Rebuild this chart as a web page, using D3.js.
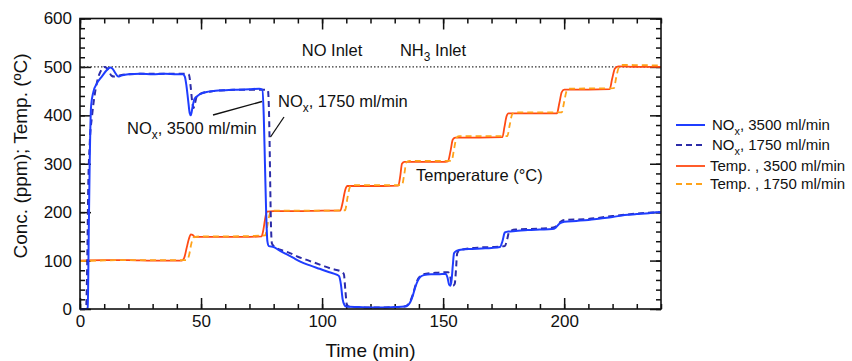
<!DOCTYPE html>
<html><head><meta charset="utf-8">
<script src="https://cdn.jsdelivr.net/npm/d3@7"></script>
<style>
body{margin:0;background:#fff}
svg{display:block}
text{font-family:"Liberation Sans",Arial,Helvetica,sans-serif;fill:#111}
</style>
</head><body>
<svg id="chart" width="852" height="361"></svg>
<script>
// Tick values
const timeTicks = [0, 50, 100, 150, 200];
const concTicks = [0, 100, 200, 300, 400, 500, 600];
const inletLevel = 500;

// NOx outlet concentration (ppm) vs time (min), 3500 ml/min
const nox3500 = [[0,0],[2.5,0],[3.2,2],[3.6,150],[4,300],[4.6,420],[5.5,448],[7,466],[9,480],[11,493],[12.5,499],[13.5,496],[14.5,488],[15.8,480],[17,482],[20,485],[25,486],[30,485],[35,486],[40,485],[42.5,485],[43.3,480],[44,460],[44.7,430],[45.3,405],[45.8,400],[46.5,418],[47.3,434],[48.5,440],[50,445],[53,449],[56,451],[60,452],[65,453],[70,454],[74,455],[75.3,453],[75.9,400],[76.4,300],[76.9,200],[77.4,140],[78,130],[80,128],[82,122],[85,114],[88,106],[91,98],[95,90],[99,83],[103,76],[106,71],[107,68],[107.8,50],[108.5,20],[109.3,8],[110,5],[115,4],[120,3],[125,3],[130,4],[134,5],[135.5,8],[136.5,15],[137.5,28],[138.5,45],[139.5,58],[140.5,66],[142,70],[145,72],[148,72],[151,73],[151.8,65],[152.5,50],[153,48],[153.5,60],[154,90],[154.5,115],[155.5,120],[158,123],[162,124],[166,125],[170,126],[173.5,128],[174.5,140],[175.5,158],[177,160],[180,161],[185,163],[190,164],[195,165],[196.5,168],[198,176],[200,180],[205,182],[210,184],[215,187],[220,190],[225,194],[230,196],[235,198],[238,200],[240,200]];

// NOx outlet concentration (ppm) vs time (min), 1750 ml/min
const nox1750 = [[0,0],[2.5,0],[3,100],[3.4,250],[4,340],[5,400],[6,440],[7,468],[8,485],[9,495],[10,500],[11,498],[12,490],[13,482],[14,480],[16,482],[20,485],[30,486],[40,486],[44,486],[45,484],[45.7,460],[46.3,430],[46.9,415],[47.5,425],[48.3,440],[50,445],[55,450],[60,452],[70,453],[76,453],[77.6,452],[78,420],[78.3,350],[78.6,250],[78.9,170],[79.3,135],[80.5,128],[83,122],[86,117],[90,108],[95,99],[100,90],[104,83],[108,77],[109,72],[109.6,40],[110.2,10],[111,5],[120,3],[130,4],[134,5],[136,12],[137.5,30],[139,55],[140.5,68],[143,73],[148,75],[152,76],[152.8,72],[153.3,55],[154,48],[154.8,52],[155.3,80],[155.8,115],[157,122],[165,127],[170,128],[175.5,130],[176.5,145],[177.3,160],[180,164],[190,166],[195,168],[197,172],[198.5,180],[200,184],[210,186],[220,192],[230,197],[240,200]];

// Catalyst temperature (°C) vs time (min), 3500 ml/min
const temp3500 = [[0,100],[10,101],[20,101],[30,100],[42,100],[43,105],[44,125],[45,145],[45.8,154],[46.5,153],[47.5,149],[50,149],[60,149],[70,149],[75,150],[75.8,165],[76.6,190],[77.2,201],[80,202],[90,202],[100,203],[107.5,203],[108.5,220],[109.5,245],[110.5,254],[115,254],[125,254],[131.5,255],[132.3,275],[133,300],[134,304],[140,304],[150,304],[152,305],[153,325],[154,350],[155,354],[165,354],[174.5,355],[175.3,375],[176.2,398],[177,404],[185,404],[197,404],[198,425],[199,448],[200,453],[210,453],[218.8,454],[219.8,475],[221,497],[222.5,501],[230,500],[240,500]];

// Catalyst temperature (°C) vs time (min), 1750 ml/min
const temp1750 = [[0,99],[20,101],[44,101],[45,110],[46,135],[47,148],[50,150],[60,150],[76.5,152],[77.5,175],[78.5,198],[79.5,203],[100,203],[109.5,204],[110.5,230],[111.5,252],[112.5,256],[133,256],[134,280],[134.8,303],[136,306],[153.5,306],[154.5,330],[155.5,353],[156.5,357],[176.5,357],[177.5,380],[178.5,402],[179.5,406],[199,406],[200,428],[201,450],[202,455],[220.5,456],[221.5,478],[222.5,498],[224,504],[240,503]];

// Legend entries: [main text, subscript, remainder]
const legendNames = [["NO","x",", 3500 ml/min"],["NO","x",", 1750 ml/min"],["Temp. , 3500 ml/min","",""],["Temp. , 1750 ml/min","",""]];

const series = [
  {data: nox3500, color: "#1f3dff", dash: null, width: 2},
  {data: nox1750, color: "#2c2ca8", dash: "6,4", width: 2},
  {data: temp3500, color: "#ff4a14", dash: null, width: 1.8},
  {data: temp1750, color: "#ffa31a", dash: "6,4", width: 1.8}
];

const svg = d3.select("#chart");
const x = d3.scaleLinear().domain([0, 240]).range([80, 661]);
const y = d3.scaleLinear().domain([0, 600]).range([309, 18.5]);
const [x0, x1] = x.range();
const [y0, y1] = y.range();

const fs = 17;

// mirrored inward ticks on all four sides
function drawAxis(gen, transform, minorVals, majorVals, labels) {
  const gMinor = svg.append("g").attr("transform", transform)
    .call(gen(minorVals).tickSize(-5).tickFormat(""));
  gMinor.select(".domain").remove();
  const gMajor = svg.append("g").attr("transform", transform)
    .call(gen(majorVals).tickSize(-11).tickPadding(labels ? 6 : 0).tickFormat(labels ? d3.format("d") : ""));
  gMajor.select(".domain").remove();
  svg.selectAll("g.tick line").attr("stroke", "#111").attr("stroke-width", 1.5);
  gMajor.selectAll("text").style("font-size", fs + "px").attr("fill", "#111");
  return gMajor;
}
const xMinor = d3.range(0, 241, 10);
const yMinor = d3.range(0, 601, 20);
drawAxis(v => d3.axisBottom(x).tickValues(v), `translate(0,${y0})`, xMinor, timeTicks, true);
drawAxis(v => d3.axisTop(x).tickValues(v), `translate(0,${y1})`, xMinor, timeTicks, false);
const gy = drawAxis(v => d3.axisLeft(y).tickValues(v), `translate(${x0},0)`, yMinor, concTicks, true);
gy.selectAll("text").attr("x", -8);
drawAxis(v => d3.axisRight(y).tickValues(v), `translate(${x1},0)`, yMinor, concTicks, false);

// inlet reference level
svg.append("line")
  .attr("x1", x0).attr("x2", x1).attr("y1", y(inletLevel)).attr("y2", y(inletLevel))
  .attr("stroke", "#333").attr("stroke-width", 1.2).attr("stroke-dasharray", "1.5,2");

// data lines
const line = d3.line().x(d => x(d[0])).y(d => y(d[1])).curve(d3.curveMonotoneX);
const order = [2, 3, 1, 0];
order.forEach(i => {
  const s = series[i];
  svg.append("path").datum(s.data)
    .attr("d", line)
    .attr("fill", "none")
    .attr("stroke", s.color)
    .attr("stroke-width", s.width)
    .attr("stroke-dasharray", s.dash)
    .attr("stroke-linejoin", "round");
});

// frame
svg.append("rect").attr("x", x0).attr("y", y1).attr("width", x1 - x0).attr("height", y0 - y1)
  .attr("fill", "none").attr("stroke", "#111").attr("stroke-width", 1.6);

// text with optional subscript
function subText(g, parts, xPos, yPos, size, anchor) {
  const t = g.append("text").attr("x", xPos).attr("y", yPos)
    .style("font-size", size + "px").attr("text-anchor", anchor || "start");
  t.append("tspan").text(parts[0]);
  if (parts[1]) {
    t.append("tspan").text(parts[1]).attr("dy", size * 0.3).style("font-size", (size * 0.72) + "px");
    t.append("tspan").text(parts[2]).attr("dy", -size * 0.3);
  }
  return t;
}

// axis titles
svg.append("text").attr("x", (x0 + x1) / 2 + 0).attr("y", 357)
  .attr("text-anchor", "middle").style("font-size", "19px").text("Time (min)");
svg.append("text").attr("transform", "translate(27,156) rotate(-90)")
  .attr("text-anchor", "middle").style("font-size", "19px").text("Conc. (ppm); Temp. (ºC)");

// annotations
subText(svg, ["NO Inlet", "", ""], 332, 56, 16.5, "middle");
subText(svg, ["NH", "3", " Inlet"], 433, 56, 16.5, "middle");
subText(svg, ["Temperature (°C)", "", ""], 416, 181, 16.5, "start");
subText(svg, ["NO", "x", ", 3500 ml/min"], 127, 134, 16.5, "start");
subText(svg, ["NO", "x", ", 1750 ml/min"], 278, 107, 16.5, "start");
svg.append("line").attr("x1", 213).attr("y1", 115).attr("x2", 262).attr("y2", 101.5)
  .attr("stroke", "#111").attr("stroke-width", 1.3);
svg.append("line").attr("x1", 284).attr("y1", 117).attr("x2", 270.5).attr("y2", 137)
  .attr("stroke", "#111").attr("stroke-width", 1.3);

// legend
const legendRows = [125, 145, 166, 184];
const lg = svg.append("g");
series.forEach((s, i) => {
  const yy = legendRows[i];
  lg.append("line").attr("x1", 676).attr("x2", 705).attr("y1", yy).attr("y2", yy)
    .attr("stroke", s.color).attr("stroke-width", s.width).attr("stroke-dasharray", s.dash);
  subText(lg, legendNames[i], i < 2 ? 712 : 710, yy + 5, 15, "start");
});
</script>
</body></html>
